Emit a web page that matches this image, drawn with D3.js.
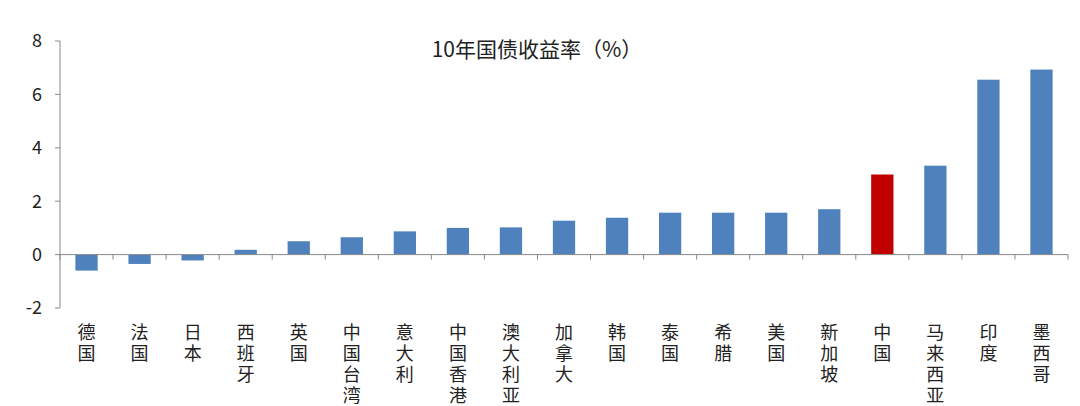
<!DOCTYPE html>
<html><head><meta charset="utf-8">
<script src="https://cdn.jsdelivr.net/npm/d3@7"></script>
<style>body{margin:0;background:#fff}text{font-family:"Noto Sans CJK SC","Noto Sans",sans-serif}</style>
</head><body><div id="chart"></div>
<script>
const categories = ["德国","法国","日本","西班牙","英国","中国台湾","意大利","中国香港","澳大利亚","加拿大","韩国","泰国","希腊","美国","新加坡","中国","马来西亚","印度","墨西哥"]
const values = [-0.6,-0.35,-0.22,0.18,0.5,0.65,0.87,1.0,1.02,1.27,1.38,1.57,1.57,1.57,1.7,3.0,3.33,6.55,6.93]
const yTicks = [-2,0,2,4,6,8]
const highlight = "中国"

const width = 1080, height = 406
const svg = d3.select("#chart").append("svg").attr("width", width).attr("height", height)

const x = d3.scaleBand().domain(categories).range([60, 1068]).paddingInner(0.58).paddingOuter(0.29)
const y = d3.scaleLinear().domain([-2, 8]).range([308, 41])

// y axis
svg.append("line").attr("x1", 60).attr("x2", 60).attr("y1", y(8)).attr("y2", y(-2)).attr("stroke", "#888")
svg.selectAll(".yt").data(yTicks).join("line")
  .attr("x1", 55).attr("x2", 60).attr("y1", d => y(d)).attr("y2", d => y(d)).attr("stroke", "#888")
svg.selectAll(".yl").data(yTicks).join("text")
  .attr("x", 42).attr("y", d => y(d)).attr("dy", "0.35em").attr("text-anchor", "end")
  .attr("font-size", 18).attr("fill", "#222").text(d => d)

// bars
svg.selectAll("rect").data(categories).join("rect")
  .attr("x", d => x(d)).attr("width", x.bandwidth())
  .attr("y", (d, i) => y(Math.max(0, values[i])))
  .attr("height", (d, i) => Math.abs(y(values[i]) - y(0)))
  .attr("fill", d => d === highlight ? "#c00000" : "#4f81bd")

// zero line and ticks
svg.append("line").attr("x1", 60).attr("x2", 1068).attr("y1", y(0)).attr("y2", y(0)).attr("stroke", "#888")
svg.selectAll(".xt").data(d3.range(categories.length + 1)).join("line")
  .attr("x1", i => 60 + i * x.step()).attr("x2", i => 60 + i * x.step())
  .attr("y1", y(0)).attr("y2", y(0) + 5).attr("stroke", "#888")

// vertical labels, one character per line
const chars = categories.flatMap(d => Array.from(d).map((ch, k) => ({ d, ch, k })))
svg.selectAll(".xl").data(chars).join("text")
  .attr("x", c => x(c.d) + x.bandwidth() / 2).attr("y", c => 339 + c.k * 21)
  .attr("text-anchor", "middle").attr("font-size", 18).attr("fill", "#222").text(c => c.ch)

svg.append("text").attr("x", 537).attr("y", 57).attr("text-anchor", "middle")
  .attr("font-size", 21).attr("fill", "#222").text("10年国债收益率（%）")
</script></body></html>
